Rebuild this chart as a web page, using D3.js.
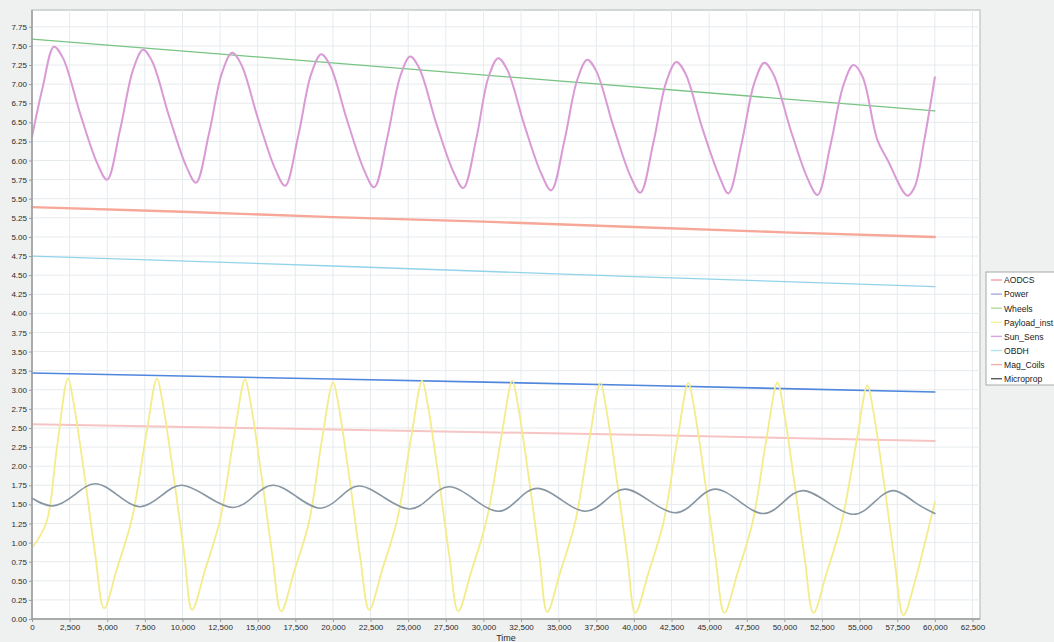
<!DOCTYPE html>
<html><head><meta charset="utf-8">
<script src="https://cdn.jsdelivr.net/npm/d3@7"></script>
<style>
html,body{margin:0;padding:0;background:#eff0f0;}
svg{display:block;}
text{font-family:"Liberation Sans",Arial,sans-serif;}
</style></head>
<body>
<svg id="chart" width="1054" height="642"></svg>
<script>
const seriesNames = ["AODCS","Power","Wheels","Payload_inst","Sun_Sens","OBDH","Mag_Coils","Microprop"];
const seriesColors = ["#f6a797","#4f86de","#78c482","#f4ec8a","#d99ad6","#92d3ea","#f7c4c4","#8796a2"];
const legendColors = ["#f2a0a6","#a8acdc","#aede9e","#f6f29e","#d8a6de","#ade6f0","#f3aeae","#5a5a5a"];
const seriesWidths = [2.4,1.6,1.3,1.8,2.0,1.3,2.0,1.6];

const xTickValues = [0,2500,5000,7500,10000,12500,15000,17500,20000,22500,25000,27500,30000,32500,35000,37500,40000,42500,45000,47500,50000,52500,55000,57500,60000,62500];
const yTickValues = [0,0.25,0.5,0.75,1,1.25,1.5,1.75,2,2.25,2.5,2.75,3,3.25,3.5,3.75,4,4.25,4.5,4.75,5,5.25,5.5,5.75,6,6.25,6.5,6.75,7,7.25,7.5,7.75];

const aodcs = [[0,5.39],[10000,5.33],[20000,5.26],[30000,5.20],[40000,5.13],[50000,5.06],[60000,5.00]];
const power = [[0,3.22],[20000,3.14],[40000,3.06],[60000,2.97]];
const wheels = [[0,7.59],[60000,6.65]];
const obdh = [[0,4.75],[20000,4.62],[40000,4.48],[60000,4.35]];
const magCoils = [[0,2.55],[20000,2.48],[40000,2.41],[60000,2.33]];

const sunSens = [[0,6.31],[700,6.95],[1460,7.49],[2060,7.34],[3190,6.62],[4320,5.97],[4990,5.75],
[5850,6.40],[6720,7.19],[7380,7.45],[7980,7.30],[9110,6.58],[10240,5.93],[10900,5.71],
[11770,6.36],[12630,7.15],[13300,7.41],[13900,7.26],[15030,6.54],[16160,5.89],[16820,5.67],
[17690,6.32],[18550,7.13],[19220,7.39],[19820,7.24],[20950,6.52],[22080,5.87],[22740,5.65],
[23610,6.30],[24470,7.10],[25130,7.36],[25730,7.21],[26860,6.49],[27990,5.86],[28660,5.64],
[29530,6.29],[30320,7.08],[30980,7.34],[31580,7.19],[32710,6.47],[33840,5.83],[34510,5.61],
[35380,6.26],[36240,7.06],[36900,7.32],[37500,7.17],[38630,6.45],[39760,5.80],[40430,5.58],
[41290,6.23],[42150,7.03],[42820,7.29],[43420,7.14],[44550,6.42],[45680,5.79],[46280,5.57],
[47150,6.22],[48010,7.02],[48670,7.28],[49270,7.13],[50400,6.41],[51530,5.77],[52200,5.55],
[53060,6.20],[53930,6.99],[54590,7.25],[55190,7.10],[56180,6.27],[56850,6.01],[58180,5.54],
[58650,5.65],[59300,6.27],[60000,7.09]];

const payloadInst = [[0,0.93],[950,1.26],[1660,2.25],[2390,3.15],[2720,2.88],[3520,1.83],[4190,0.86],[4790,0.14],
[5650,0.66],[6650,1.32],[7580,2.40],[8310,3.15],[8640,2.88],[9440,1.83],[10110,0.86],[10640,0.12],
[11500,0.64],[12500,1.30],[13430,2.40],[14160,3.14],[14490,2.87],[15290,1.82],[15960,0.85],[16560,0.10],
[17420,0.62],[18420,1.28],[19280,2.36],[20010,3.10],[20340,2.83],[21140,1.78],[21810,0.81],[22410,0.12],
[23270,0.64],[24270,1.30],[25200,2.38],[25930,3.12],[26260,2.85],[27060,1.80],[27730,0.83],[28320,0.10],
[29190,0.62],[30190,1.28],[31190,2.38],[31920,3.12],[32250,2.85],[33050,1.80],[33720,0.82],[34240,0.09],
[35100,0.61],[36100,1.27],[37040,2.35],[37770,3.09],[38100,2.82],[38900,1.77],[39570,0.80],[40090,0.08],
[40960,0.60],[41960,1.26],[42890,2.35],[43620,3.09],[43950,2.82],[44750,1.77],[45420,0.80],[46010,0.08],
[46880,0.60],[47880,1.26],[48810,2.36],[49540,3.10],[49870,2.83],[50670,1.78],[51340,0.81],[51930,0.08],
[52800,0.60],[53800,1.26],[54790,2.32],[55520,3.06],[55850,2.79],[56650,1.74],[57320,0.77],[57910,0.05],
[58780,0.57],[59470,1.10],[60000,1.53]];

const microprop = [[0,1.58],[1400,1.48],[2800,1.62],[4190,1.77],[5690,1.62],[7180,1.47],[8580,1.61],[9970,1.75],
[11670,1.60],[13360,1.46],[14690,1.60],[16020,1.75],[17590,1.60],[19150,1.45],[20450,1.59],[21740,1.74],
[23400,1.59],[25070,1.44],[26400,1.58],[27730,1.73],[29360,1.57],[30980,1.41],[32280,1.56],[33580,1.71],
[35180,1.56],[36770,1.41],[38100,1.55],[39430,1.70],[41090,1.54],[42750,1.39],[44080,1.54],[45410,1.70],
[47010,1.54],[48600,1.38],[49930,1.53],[51260,1.68],[52930,1.52],[54590,1.37],[55920,1.52],[57250,1.68],
[58650,1.53],[60000,1.38]];

const seriesData = [aodcs, power, wheels, payloadInst, sunSens, obdh, magCoils, microprop];
const seriesCurves = [d3.curveLinear, d3.curveLinear, d3.curveLinear, d3.curveCatmullRom.alpha(0.5),
  d3.curveCatmullRom.alpha(0.5), d3.curveLinear, d3.curveLinear, d3.curveNatural];

const svg = d3.select("#chart");
const pLeft = 32, pRight = 980, pTop = 10, pBottom = 619;
const x = d3.scaleLinear().domain([0, 63000]).range([pLeft, pRight]);
const y = d3.scaleLinear().domain([0, 7.97]).range([pBottom, pTop]);

// plot background
svg.append("rect").attr("x", pLeft).attr("y", pTop).attr("width", pRight-pLeft).attr("height", pBottom-pTop)
  .attr("fill", "#ffffff").attr("stroke", "#c9cbcc").attr("stroke-width", 1.5);

// grid
const grid = svg.append("g");
grid.selectAll("line.v").data(xTickValues.filter(d => d > 0)).join("line")
  .attr("x1", d => x(d)).attr("x2", d => x(d)).attr("y1", pTop).attr("y2", pBottom)
  .attr("stroke", "#e6ebee").attr("stroke-width", 1);
grid.selectAll("line.h").data(yTickValues.filter(d => d > 0)).join("line")
  .attr("x1", pLeft).attr("x2", pRight).attr("y1", d => y(d)).attr("y2", d => y(d))
  .attr("stroke", "#e6ebee").attr("stroke-width", 1);

// lines
const order = [6,5,1,0,2,3,4,7];
const lg = svg.append("g").attr("fill", "none").attr("stroke-linejoin", "round").attr("stroke-linecap", "round");
order.forEach(i => {
  const gen = d3.line().x(d => x(d[0])).y(d => y(d[1])).curve(seriesCurves[i]);
  lg.append("path").attr("d", gen(seriesData[i]))
    .attr("stroke", seriesColors[i]).attr("stroke-width", seriesWidths[i]);
});

// axes
const xAxis = d3.axisBottom(x).tickValues(xTickValues).tickFormat(d3.format(",")).tickSize(3).tickPadding(2);
const yAxis = d3.axisLeft(y).tickValues(yTickValues).tickFormat(d3.format(".2f")).tickSize(3).tickPadding(2);
const gx = svg.append("g").attr("transform", `translate(0,${pBottom})`).call(xAxis);
const gy = svg.append("g").attr("transform", `translate(${pLeft},0)`).call(yAxis);
[gx, gy].forEach(g => {
  g.select(".domain").attr("stroke", "#9a9c9e").attr("stroke-width", 1.5);
  g.selectAll(".tick line").attr("stroke", "#9a9c9e");
  g.selectAll(".tick text").attr("fill", "#2a2a2a").attr("font-size", "8px")
    .attr("font-family", '"Liberation Sans", Arial, sans-serif');
});
gy.select(".domain").attr("d", `M0,${pBottom}V${pTop}`);
gx.select(".domain").attr("d", `M${pLeft},0H${pRight}`);

svg.append("text").attr("x", (pLeft+pRight)/2).attr("y", 641).attr("text-anchor", "middle")
  .attr("font-size", "9px").attr("fill", "#2a2a2a").text("Time");

// legend
const legend = svg.append("g").attr("transform", "translate(986,272)");
legend.append("rect").attr("x", 0).attr("y", 0).attr("width", 80).attr("height", 113)
  .attr("fill", "#ffffff").attr("stroke", "#a8a8a8").attr("stroke-width", 1);
seriesNames.forEach((name, i) => {
  const yy = 8 + i * 14.1;
  legend.append("line").attr("x1", 5).attr("x2", 16).attr("y1", yy).attr("y2", yy)
    .attr("stroke", legendColors[i]).attr("stroke-width", 1.4);
  legend.append("text").attr("x", 18).attr("y", yy + 3.3).attr("font-size", "8.6px")
    .attr("fill", "#222").text(name);
});
</script>
</body></html>
